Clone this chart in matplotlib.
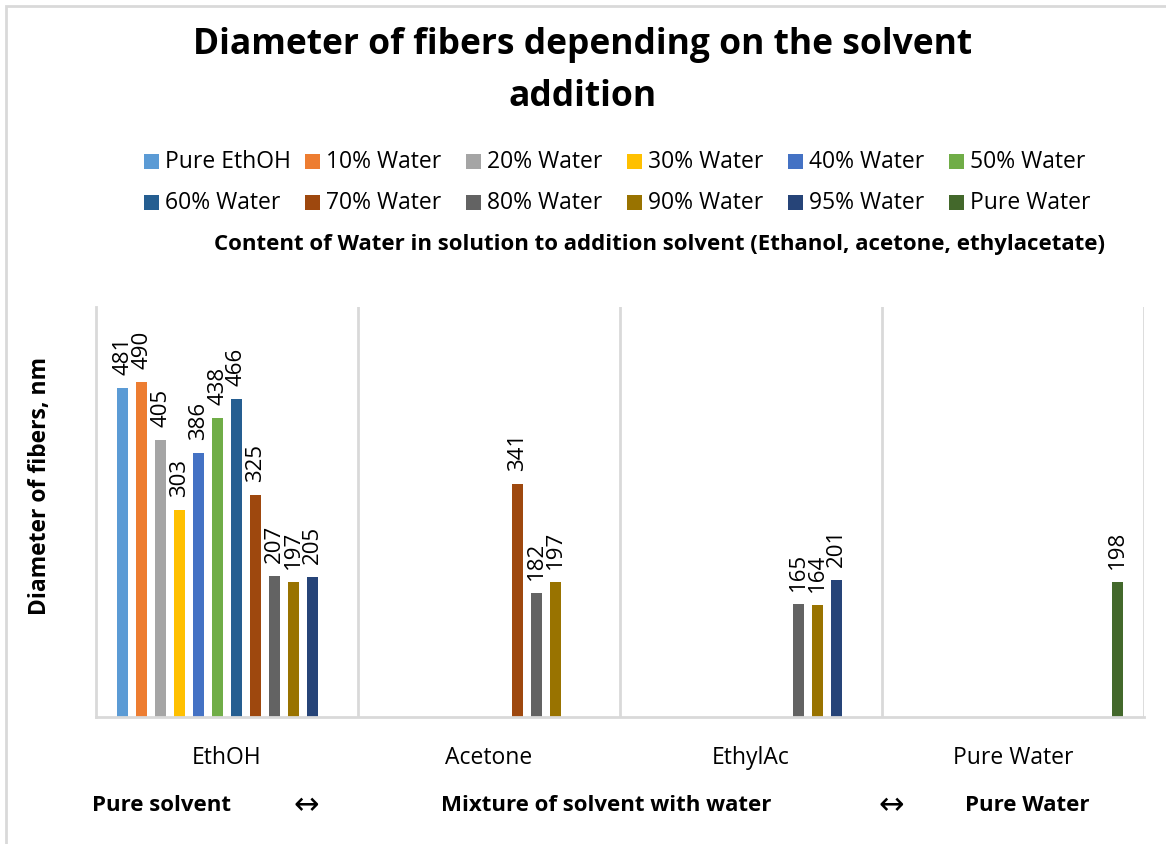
import numpy as np
import matplotlib.pyplot as plt
from matplotlib.patches import Rectangle

plt.rcParams['font.family'] = ['Open Sans', 'DejaVu Sans']

categories = ['EthOH', 'Acetone', 'EthylAc', 'Pure Water']
series = ['Pure EthOH', '10% Water', '20% Water', '30% Water', '40% Water', '50% Water',
          '60% Water', '70% Water', '80% Water', '90% Water', '95% Water', 'Pure Water']
colors = ['#5B9BD5', '#ED7D31', '#A5A5A5', '#FFC000', '#4472C4', '#70AD47',
          '#255E91', '#9E480E', '#636363', '#997300', '#264478', '#43682B']

nan = np.nan
# one row per series, one column per category (blank cells -> nan)
pure_ethoh = [481, nan, nan, nan]
water_10 = [490, nan, nan, nan]
water_20 = [405, nan, nan, nan]
water_30 = [303, nan, nan, nan]
water_40 = [386, nan, nan, nan]
water_50 = [438, nan, nan, nan]
water_60 = [466, nan, nan, nan]
water_70 = [325, 341, nan, nan]
water_80 = [207, 182, 165, nan]
water_90 = [197, 197, 164, nan]
water_95 = [205, nan, 201, nan]
pure_water = [nan, nan, nan, 198]
values = [pure_ethoh, water_10, water_20, water_30, water_40, water_50,
          water_60, water_70, water_80, water_90, water_95, pure_water]

W, H = 1166, 845
fig = plt.figure(figsize=(W / 100, H / 100), dpi=100)
ax = fig.add_axes([96 / W, 1 - 718 / H, (1144 - 96) / W, (718 - 308) / H])

step = 0.0725
width = 0.042
x0 = np.arange(len(categories)) + 0.5
for j, (name, vals, col) in enumerate(zip(series, values, colors)):
    xs = x0 + (j - 5.5) * step
    ax.bar(xs, vals, width=width, color=col, label=name)
    for xb, v in zip(xs, vals):
        if np.isnan(v):
            continue
        ax.annotate(f'{v:.0f}', (xb, v), xytext=(0, 10), textcoords='offset points',
                    rotation=90, ha='center', va='bottom', fontsize=16)

ax.set_xlim(0, 4)
ax.set_ylim(0, 600)
ax.set_yticks([])
ax.set_xticks(x0)
ax.set_xticklabels(categories, fontsize=16.5)
ax.tick_params(axis='x', length=0, pad=20)
for s in ['top', 'right']:
    ax.spines[s].set_visible(False)
for s in ['left', 'bottom']:
    ax.spines[s].set_color('#D9D9D9')
    ax.spines[s].set_linewidth(2)
for xv in [1, 2, 3, 4]:
    ax.axvline(xv, color='#D9D9D9', lw=2, zorder=0)

ax.set_ylabel('Diameter of fibers, nm', fontsize=16.5, fontweight='bold')
ax.yaxis.set_label_coords((52 - 96) / 1048, (718 - 486) / 410)

fig.text(583 / W, 1 - 71 / H, 'Diameter of fibers depending on the solvent\naddition',
         ha='center', va='center', fontsize=25.5, fontweight='bold', linespacing=1.6)

# legend: 6 equal-width columns, filled row by row
for i, (name, col) in enumerate(zip(series, colors)):
    r, c = divmod(i, 6)
    mx = 144 + c * 161
    my = 162 + r * 41
    fig.patches.append(Rectangle((mx / W, 1 - (my + 7.5) / H), 15 / W, 15 / H,
                                 transform=fig.transFigure, facecolor=col, edgecolor='none'))
    fig.text((mx + 21) / W, 1 - my / H, name, ha='left', va='center', fontsize=16.5)

fig.text(660 / W, 1 - 245 / H,
         'Content of Water in solution to addition solvent (Ethanol, acetone, ethylacetate)',
         ha='center', va='center', fontsize=16, fontweight='bold')

bottom_y = 1 - 806 / H
fig.text(161 / W, bottom_y, 'Pure solvent', ha='center', va='center', fontsize=16, fontweight='bold')
fig.text(306 / W, bottom_y, '↔', ha='center', va='center', fontsize=22)
fig.text(606 / W, bottom_y, 'Mixture of solvent with water', ha='center', va='center',
         fontsize=16, fontweight='bold')
fig.text(891 / W, bottom_y, '↔', ha='center', va='center', fontsize=22)
fig.text(1027 / W, bottom_y, 'Pure Water', ha='center', va='center', fontsize=16, fontweight='bold')

# chart area frame, runs off the right and bottom edges
fig.patches.append(Rectangle((6 / W, -0.1), 1.2, 1 - 7 / H + 0.1, transform=fig.transFigure,
                             fill=False, edgecolor='#D9D9D9', lw=2))

fig.savefig('out.png', dpi=100)
